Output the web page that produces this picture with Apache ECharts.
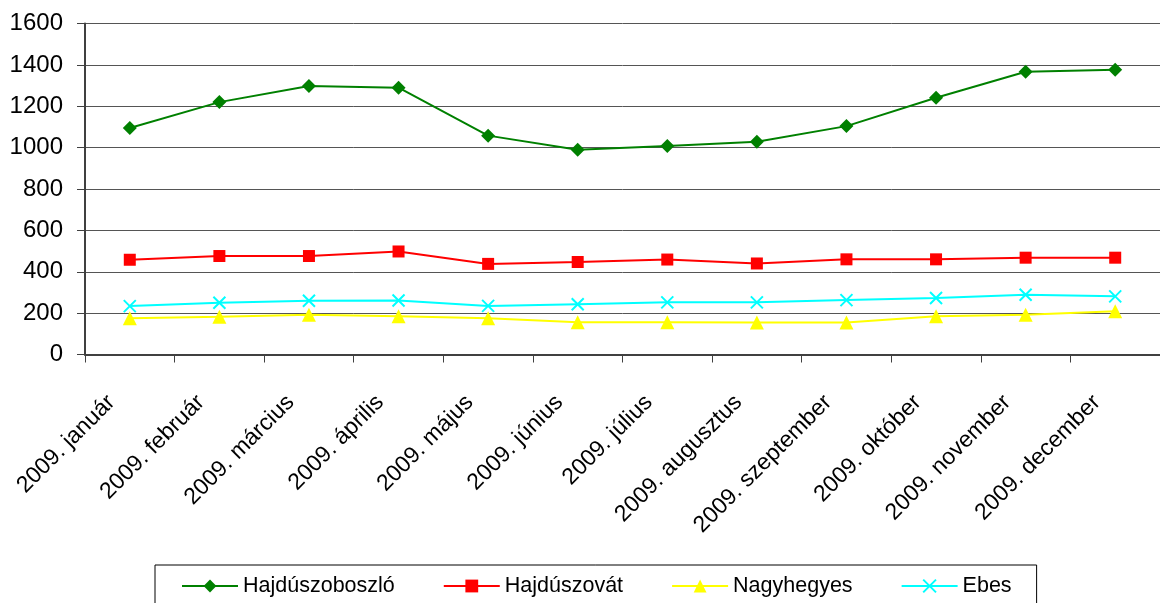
<!DOCTYPE html>
<html>
<head>
<meta charset="utf-8">
<script src="https://cdn.jsdelivr.net/npm/echarts@6/dist/echarts.min.js"></script>
<style>
  html, body { margin: 0; padding: 0; background: #fff; }
  #chart { width: 1160px; height: 603px; }
</style>
</head>
<body>
<div id="chart"></div>
<script>
// kategóriák (hónapok)
var months = ['2009. január', '2009. február', '2009. március', '2009. április', '2009. május', '2009. június',
  '2009. július', '2009. augusztus', '2009. szeptember', '2009. október', '2009. november', '2009. december'];

var hajduszoboszlo = [1095, 1220, 1298, 1290, 1058, 990, 1008, 1028, 1104, 1241, 1367, 1377];
var hajduszovat = [458, 476, 476, 498, 438, 447, 459, 440, 460, 460, 468, 468];
var nagyhegyes = [175, 183, 192, 185, 175, 156, 156, 155, 155, 185, 192, 209];
var ebes = [234, 250, 260, 261, 235, 243, 252, 252, 263, 273, 289, 281];

var FONT = "'Liberation Sans', Arial, sans-serif";

function lineSeries(name, data, color, symbol, size, stroked) {
  var s = {
    name: name,
    type: 'line',
    data: data,
    symbol: symbol,
    symbolSize: size,
    showAllSymbol: true,
    lineStyle: { color: color, width: 2 },
    itemStyle: { color: color }
  };
  if (stroked) {
    s.itemStyle.borderColor = color;
    s.itemStyle.borderWidth = 2;
  }
  return s;
}

var chart = echarts.init(document.getElementById('chart'), null, { renderer: 'canvas' });

var option = {
  animation: false,
  backgroundColor: '#fff',
  textStyle: { fontFamily: FONT, color: '#000' },
  grid: {
    left: 85,
    right: -3,
    top: 23.5,
    bottom: 248.5,
    containLabel: false
  },
  legend: {
    left: 155,
    top: 565,
    padding: [10, 25, 20, 26],
    borderColor: '#000',
    borderWidth: 1,
    itemGap: 48,
    itemWidth: 56,
    itemHeight: 16,
    textStyle: { fontFamily: FONT, fontSize: 21.5, color: '#000' },
    data: ['Hajdúszoboszló', 'Hajdúszovát', 'Nagyhegyes', 'Ebes']
  },
  xAxis: {
    type: 'category',
    data: months,
    boundaryGap: true,
    axisLine: { show: true, lineStyle: { color: '#404040', width: 2 } },
    axisTick: { show: true, length: 8, lineStyle: { color: '#404040', width: 1 } },
    axisLabel: {
      rotate: 45,
      interval: 0,
      margin: 26,
      padding: [0, 26, 0, 0],
      fontFamily: FONT,
      fontSize: 23,
      color: '#000'
    },
    splitLine: { show: false }
  },
  yAxis: {
    type: 'value',
    min: 0,
    max: 1600,
    interval: 200,
    axisLine: { show: true, lineStyle: { color: '#404040', width: 2 } },
    axisTick: { show: true, length: 8, lineStyle: { color: '#404040', width: 1 } },
    axisLabel: {
      margin: 22,
      fontFamily: FONT,
      fontSize: 24,
      color: '#000',
      formatter: function (v) { return String(v); }
    },
    splitLine: { show: true, lineStyle: { color: '#555', width: 1 } }
  },
  series: [
    lineSeries('Hajdúszoboszló', hajduszoboszlo, '#008000', 'diamond', 14),
    lineSeries('Hajdúszovát', hajduszovat, '#FF0000', 'rect', 12),
    lineSeries('Nagyhegyes', nagyhegyes, '#FFFF00', 'triangle', 14),
    lineSeries('Ebes', ebes, '#00FFFF', 'path://M0,0L10,10M10,0L0,10', 12, true)
  ]
};

chart.setOption(option);
</script>
</body>
</html>
